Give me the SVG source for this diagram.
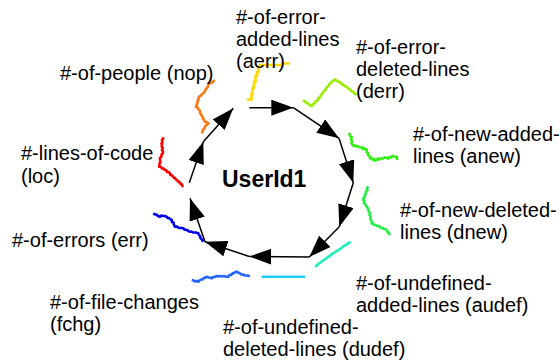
<svg xmlns="http://www.w3.org/2000/svg" width="560" height="364" viewBox="0 0 560 364">
  <style>
    .lbl { font-family: "Liberation Sans", Arial, Helvetica, sans-serif; font-size: 20px; fill: #000; }
    .title { font-family: "Liberation Sans", Arial, Helvetica, sans-serif; font-size: 23px; font-weight: bold; fill: #000; }
    .arrow { fill: none; stroke: #000; stroke-width: 1.5; marker-end: url(#head); }
    .trace { fill: none; stroke-width: 2.6; stroke-linejoin: miter; stroke-linecap: butt; }
  </style>
  <defs>
    <marker id="head" markerUnits="userSpaceOnUse" markerWidth="22" markerHeight="16" refX="22" refY="8" orient="auto">
      <path d="M0,0 L22,8 L0,16 Z" fill="#000"/>
    </marker>
  </defs>
  <rect width="560" height="364" fill="#fff"/>

  <!-- ring of arrows around the user -->
  <g id="connectors">
    <path class="arrow" d="M249.3,107.7 L293.3,107.7"/>
    <path class="arrow" d="M293.3,107.7 L339,138.3"/>
    <path class="arrow" d="M339,138.3 L353.3,182.7"/>
    <path class="arrow" d="M353.3,182.7 L339.3,226.7"/>
    <path class="arrow" d="M339.3,226.7 L309.3,257"/>
    <path class="arrow" d="M309.3,257 L249.3,256.5"/>
    <path class="arrow" d="M249.3,256.5 L205,241.7"/>
    <path class="arrow" d="M205,241.7 L190,198.3"/>
    <path class="arrow" d="M189.3,182.7 L203.3,141.7"/>
    <path class="arrow" d="M203.3,141.7 L233.3,108.3"/>
  </g>

  <g id="user">
    <text class="title" x="222" y="187">UserId1</text>
  </g>

  <!-- metric traces with their labels -->
  <g id="aerr">
    <polyline class="trace" stroke="#FFD800" points="246.7,99.5 251.5,99.5 251.5,94 252.5,94 252.5,88 254,88 254,82 255.5,82 255.5,76 257,76 257,72 258.5,72 258.5,67 260,67 260,65 282,65 282,63.5 290,63.5"/>
    <text class="lbl" x="236" y="24"><tspan x="236">#-of-error-</tspan><tspan x="236" dy="22">added-lines</tspan><tspan x="236" dy="22">(aerr)</tspan></text>
  </g>

  <g id="derr">
    <polyline class="trace" stroke="#99EE00" points="302.7,100.7 304.5,101 306,102.5 308,103.5 309.5,105 311.7,106 313,104 314.5,103.5 316,101 317.5,100.5 318.5,98 320,97.3 321,95 322.5,93.5 324,91 325.5,90 326.5,87.5 328.5,86 329.5,84 331,83 332,81.5 333.3,80.7 335,79.5 336.5,80.5 338.3,81.7 340,82 341,83.5 343,84.5 344.5,86 346,86.5 348.3,88.3 349.5,89.5 351,90.5 352,91.5 353.5,92 354.5,93.5 356.7,95"/>
    <text class="lbl" x="356" y="54"><tspan x="356">#-of-error-</tspan><tspan x="356" dy="22">deleted-lines</tspan><tspan x="356" dy="22">(derr)</tspan></text>
  </g>

  <g id="anew">
    <polyline class="trace" stroke="#33EE11" points="348.3,133.3 349.5,134 350,136 351.7,137 351,139 352,141 351.5,143 352.7,145 354,146 355,145.5 357,146.5 358.5,146.5 360,147.3 362,147.5 363,149 364.5,148.5 366.7,150 366.5,152 368,153 368,155 369.5,156 370,158.3 371.5,158 372.5,159.5 374,159 375,160.5 376.7,160 378,158.5 379.5,159.5 381,158.5 383,158.5 384.5,157.5 386.7,157.7 388,158.5 389.5,157 391,157.5 392.5,156 394,156.5 396.7,156.7 397.3,160"/>
    <text class="lbl" x="413" y="141"><tspan x="413">#-of-new-added-</tspan><tspan x="413" dy="22">lines (anew)</tspan></text>
  </g>

  <g id="dnew">
    <polyline class="trace" stroke="#22EE44" points="368.3,186.7 367,188 367.5,190 366,191.5 366,193.3 365,194.5 365,196.5 363.5,198 363.3,200 364.5,201 364,203 365.5,204.5 366.7,206.7 367.5,208 368.5,209 368.5,211 370,213.3 369.5,215 370.5,216.5 370.5,219 371.5,221 371.7,223.3 373,223.5 374,225 375.5,225 377,226 378.5,226 380,226.7 381,228 382.5,228 384,229 385.5,229 386.7,230 387.5,232 388.5,232.5 390,235"/>
    <text class="lbl" x="400" y="217"><tspan x="400">#-of-new-deleted-</tspan><tspan x="400" dy="22">lines (dnew)</tspan></text>
  </g>

  <g id="audef">
    <polyline class="trace" stroke="#22EEBB" points="315,266.7 317,265.5 318,264 320,263 321.5,261.5 323,260.5 325,259.5 326.5,258 328,257 330,256 331,254.5 333,253.5 334.5,252.5 336,251.5 338,250.5 339,249.5 341,248.5 342.5,247 344,246 346,245 347,244 349,243 350.7,241.7"/>
    <text class="lbl" x="356" y="290"><tspan x="356">#-of-undefined-</tspan><tspan x="356" dy="22">added-lines (audef)</tspan></text>
  </g>

  <g id="dudef">
    <polyline class="trace" stroke="#22CCFF" points="261.7,276.7 305,276.7"/>
    <text class="lbl" x="223" y="334"><tspan x="223">#-of-undefined-</tspan><tspan x="223" dy="22">deleted-lines (dudef)</tspan></text>
  </g>

  <g id="fchg">
    <polyline class="trace" stroke="#2266FF" points="191.7,280 193.5,280.5 195,281.5 196.5,281 198.3,281.7 199.5,280.5 201,279.5 202.5,279.5 204,278 205.5,277.5 206.7,276.7 208,277.5 209.5,277.5 211.7,278.3 213,277 215,277 216.5,276 218,276.5 220,276 222,276.5 224,276 226,276.7 228.3,276.7 229.5,275 231,275 232.5,273.5 234,273 235.5,272 236.7,271.7 238,272.5 240,273.3 241.5,274.5 243,274.5 245,275.5 247,275.5 250,276"/>
    <text class="lbl" x="50" y="309"><tspan x="50">#-of-file-changes</tspan><tspan x="50" dy="22">(fchg)</tspan></text>
  </g>

  <g id="err">
    <polyline class="trace" stroke="#0000EE" points="153.3,213.3 155,214.5 156.5,214.5 158,216 160,216.7 161.5,215.5 163,216 165,216 166.7,216.7 167.5,218 169,218 170.5,219.5 171.7,220 172,222 173.5,222.5 174,225 175,226.7 177,226.5 178,227.5 180,228 181.5,228 183.3,228.3 184.5,229.5 186,230 187.5,230 188,231 190,231.7 191.5,231.5 193,232.5 194.5,232.5 196,232.5 198.3,233.3 199,235 200,236 200.5,238 201.5,239 203.3,241.7"/>
    <text class="lbl" x="12" y="247">#-of-errors (err)</text>
  </g>

  <g id="loc">
    <polyline class="trace" stroke="#FF0000" points="163.3,137.3 163,139 162,140 162.5,142 161.5,143.5 162,145 161.7,146.7 162.7,148 162,150 163,151.5 162.7,153.3 161.5,154.5 161.5,156.5 160,158 160,160 160.5,162 159.5,163.5 159.3,166.7 161,167 162,168.5 163.5,168.5 165,170 166.5,170.5 167,172 168.5,172 170,173.3 170.5,175 171.5,175 173.3,176.7 174,178 175,178 176.5,180 177.5,180.5 178.3,181.7 179.5,182 180,183.5 181.5,184 182,185.5 183.3,186.7"/>
    <text class="lbl" x="21" y="160"><tspan x="21">#-lines-of-code</tspan><tspan x="21" dy="23">(loc)</tspan></text>
  </g>

  <g id="nop">
    <polyline class="trace" stroke="#FF7711" points="215,80.7 213.5,81 212,82.5 210,83 208.3,85 208,86.5 207,88 206,89 205,90.5 204.5,92 203.3,93.3 202,94 201,95.5 199.5,96.5 198.3,98.3 198.5,100 197.5,101 197.5,103 197,104 196.5,105.5 196,106.7 197.5,107.5 198,109 199.5,110 200,111.7 200,113 201,114 201.5,115.5 202,116 203.3,118.3 203.5,119.5 204,120 205,121.7 206.5,122 208.3,123.3 207,124.5 206.5,125 205,126.7 204.5,128 203,130 202.5,131.5 201.7,133.3"/>
    <text class="lbl" x="60" y="80">#-of-people (nop)</text>
  </g>
</svg>
